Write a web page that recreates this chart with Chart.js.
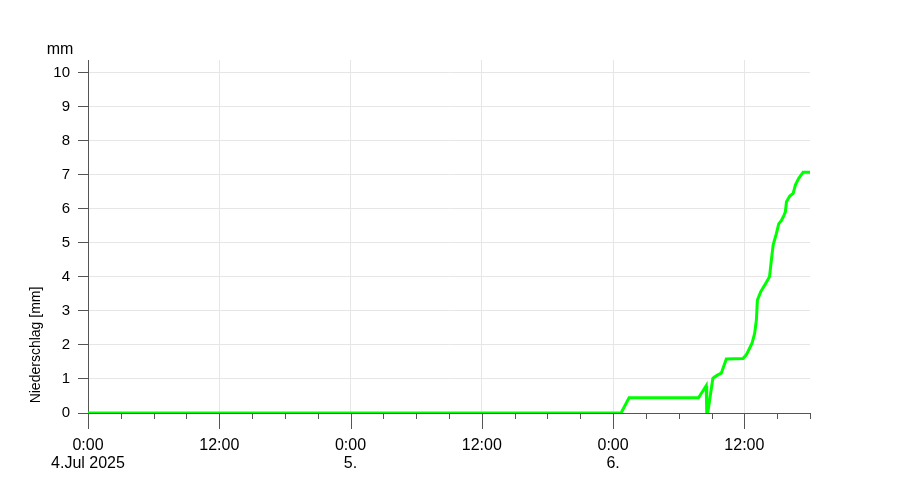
<!DOCTYPE html>
<html>
<head>
<meta charset="utf-8">
<script src="https://cdn.jsdelivr.net/npm/chart.js@4/dist/chart.umd.min.js"></script>
<style>
  html, body { margin: 0; padding: 0; background: #fff; }
  #wrap { width: 900px; height: 496px; }
</style>
</head>
<body>
<div id="wrap"><canvas id="myChart" width="900" height="496"></canvas></div>
<script>
'use strict';

// data - hours since 4.Jul 2025 0:00, rain sum in mm
var hours = [0, 48.73, 49.46, 55.81, 56.51, 56.56, 56.65, 57.12, 57.33, 57.58, 57.89, 58.35,
  59.87, 60.18, 60.7, 60.94, 61.1, 61.19, 61.5, 61.86, 62.3, 62.47, 62.63, 62.93, 63.14,
  63.39, 63.63, 63.75, 63.85, 64.15, 64.46, 64.67, 64.97, 65.37, 66];
var rain = [0, 0, 0.45, 0.45, 0.8, 0, 0, 1.02, 1.07, 1.12, 1.17, 1.59,
  1.6, 1.71, 2.05, 2.34, 2.74, 3.32, 3.57, 3.76, 4.01, 4.5, 4.94, 5.28, 5.56,
  5.66, 5.82, 5.92, 6.21, 6.38, 6.46, 6.71, 6.9, 7.08, 7.08];

var timeLabels = ['0:00', '12:00'];
var dayLabels = ['4.Jul 2025', '5.', '6.'];
var yTitle = 'Niederschlag [mm]';
var yUnit = 'mm';

var points = [];
for (var i = 0; i < hours.length; i++) {
  points.push({ x: hours[i], y: rain[i] });
}

var axisColor = '#555';
var gridColor = '#e6e6e6';

// x ticks: long ones every 12h, short ones every 3h
var xTicksPlugin = {
  id: 'xTicks',
  afterDraw: function(chart) {
    var c = chart.ctx;
    var xs = chart.scales.x;
    var top = chart.chartArea.bottom;
    c.save();
    c.strokeStyle = axisColor;
    c.lineWidth = 1;
    for (var h = 0; h <= 66; h += 3) {
      var px = Math.round(xs.getPixelForValue(h)) + 0.5;
      var len = (h % 12 === 0) ? 16 : 6;
      c.beginPath();
      c.moveTo(px, top);
      c.lineTo(px, top + len);
      c.stroke();
    }
    // axis texts
    c.fillStyle = '#000';
    c.font = '16px "Liberation Sans", Arial, sans-serif';
    c.textAlign = 'center';
    c.textBaseline = 'alphabetic';
    c.fillText(yUnit, 60, 54);
    c.font = '14px "Liberation Sans", Arial, sans-serif';
    c.translate(40, 345);
    c.rotate(-Math.PI / 2);
    c.fillText(yTitle, 0, 0);
    c.restore();
  }
};

var ctx = document.getElementById('myChart').getContext('2d');
var chart = new Chart(ctx, {
  type: 'line',
  data: {
    datasets: [{
      data: points,
      borderColor: '#00ff00',
      borderWidth: 3,
      pointRadius: 0,
      tension: 0,
      fill: false,
      clip: 0
    }]
  },
  options: {
    responsive: false,
    animation: false,
    layout: { padding: { top: 60, right: 90, left: 0, bottom: 0 } },
    plugins: {
      legend: { display: false },
      tooltip: { enabled: false }
    },
    scales: {
      x: {
        type: 'linear',
        min: 0,
        max: 66,
        afterFit: function(scale) { scale.height = 83; },
        border: { color: axisColor, width: 1 },
        grid: {
          color: function(context) {
            return (context.tick && context.tick.value % 12 === 0) ? gridColor : 'rgba(0,0,0,0)';
          },
          tickColor: 'rgba(0,0,0,0)',
          tickLength: 17
        },
        ticks: {
          stepSize: 3,
          autoSkip: false,
          maxRotation: 0,
          padding: 7,
          color: '#000',
          font: { family: '"Liberation Sans", Arial, sans-serif', size: 16, lineHeight: 1.125 },
          callback: function(value) {
            if (value % 12 !== 0) return '';
            var t = timeLabels[(value % 24) / 12];
            if (value % 24 === 0) return [t, dayLabels[value / 24]];
            return t;
          }
        }
      },
      y: {
        min: 0,
        max: 10.38,
        afterFit: function(scale) { scale.width = 88; },
        border: { color: axisColor, width: 1 },
        grid: {
          color: gridColor,
          tickColor: axisColor,
          tickLength: 10
        },
        ticks: {
          stepSize: 1,
          includeBounds: false,
          padding: 8,
          color: '#000',
          font: { family: '"Liberation Sans", Arial, sans-serif', size: 15 }
        }
      }
    }
  },
  plugins: [xTicksPlugin]
});
</script>
</body>
</html>
